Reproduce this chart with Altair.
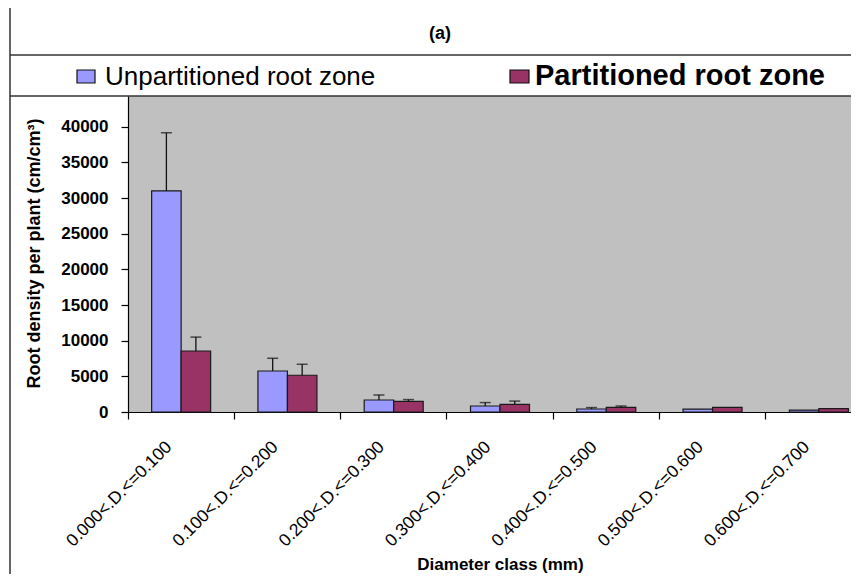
import altair as alt
import pandas as pd

categories = ["0.000<.D.<=0.100", "0.100<.D.<=0.200", "0.200<.D.<=0.300",
              "0.300<.D.<=0.400", "0.400<.D.<=0.500", "0.500<.D.<=0.600",
              "0.600<.D.<=0.700"]
series_names = ["Unpartitioned root zone", "Partitioned root zone"]
unpartitioned = [31000, 5750, 1680, 840, 420, 400, 260]
unpartitioned_err = [8150, 1780, 700, 480, 200, 0, 0]
partitioned = [8550, 5150, 1500, 1080, 660, 650, 480]
partitioned_err = [1950, 1540, 240, 450, 180, 0, 0]
y_ticks = [0, 5000, 10000, 15000, 20000, 25000, 30000, 35000, 40000]
colors = ["#9999FF", "#993366"]

rows = []
for i, c in enumerate(categories):
    rows.append(dict(cat=c, series=series_names[0], value=unpartitioned[i], err=unpartitioned_err[i]))
    rows.append(dict(cat=c, series=series_names[1], value=partitioned[i], err=partitioned_err[i]))
df = pd.DataFrame(rows)
df["top"] = df["value"] + df["err"]

FONT = "Liberation Sans"

x_enc = alt.X(
    "cat:N", sort=categories,
    scale=alt.Scale(range=[0, 744], paddingInner=0.445, paddingOuter=0.2225),
    axis=alt.Axis(
        title="Diameter class (mm)", labelAngle=-45, labelAlign="right",
        labelBaseline="middle", labelFontSize=17.5, labelPadding=25, labelOffset=-12,
        labelOverlap=False, tickSize=7, bandPosition=-0.4, titleX=372, titleY=152,
        titleBaseline="middle", titleAlign="center", titleFontSize=17,
        titleFontWeight="bold", grid=False,
    ),
)
y_scale = alt.Scale(domain=[0, 44300], nice=False, zero=True)
y_axis = alt.Axis(
    values=y_ticks, format="d", title="Root density per plant (cm/cm³)",
    labelFontSize=17, labelFontWeight="bold", tickSize=7, labelPadding=13,
    labelOverlap=False, labelFlush=False, tickCount=9,
    titleX=-94, titleY=157, titleAngle=-90, titleBaseline="middle",
    titleAlign="center", titleFontSize=18, titleFontWeight="bold", grid=False,
)
xoff = alt.XOffset("series:N", sort=series_names,
                   scale=alt.Scale(paddingInner=0, paddingOuter=0))
color = alt.Color("series:N", sort=series_names,
                  scale=alt.Scale(domain=series_names, range=colors), legend=None)

base = alt.Chart(df)

bars = base.mark_bar(stroke="#1a1a1a", strokeWidth=1.2).encode(
    x=x_enc, xOffset=xoff,
    y=alt.Y("value:Q", scale=y_scale, axis=y_axis), color=color)

err_rule = base.transform_filter("datum.err > 0").mark_rule(
    color="#111111", strokeWidth=1.3).encode(
    x=x_enc, xOffset=xoff,
    y=alt.Y("value:Q", scale=y_scale, axis=y_axis), y2="top:Q")

caps = base.transform_filter("datum.err > 0").mark_tick(
    color="#111111", thickness=1.5, size=11).encode(
    x=x_enc, xOffset=xoff,
    y=alt.Y("top:Q", scale=y_scale, axis=y_axis))

one = alt.Chart(pd.DataFrame({"k": [0]}))

frame_left = one.mark_rule(color="#333333", strokeWidth=1.5).encode(
    x=alt.value(-118), y=alt.value(-100), y2=alt.value(480))
frame_top = one.mark_rule(color="#333333", strokeWidth=1.5).encode(
    x=alt.value(-118), x2=alt.value(760), y=alt.value(-41))
frame_plot = one.mark_rule(color="#333333", strokeWidth=1.5).encode(
    x=alt.value(-118), x2=alt.value(760), y=alt.value(0))

leg_sq1 = one.mark_rect(fill=colors[0], stroke="#111111", strokeWidth=1.2).encode(
    x=alt.value(-51), x2=alt.value(-33), y=alt.value(-26), y2=alt.value(-13))
leg_sq2 = one.mark_rect(fill=colors[1], stroke="#111111", strokeWidth=1.2).encode(
    x=alt.value(382), x2=alt.value(401), y=alt.value(-26), y2=alt.value(-13))
leg_t1 = one.mark_text(align="left", baseline="alphabetic", fontSize=26,
                       font=FONT, color="black").encode(
    x=alt.value(-23), y=alt.value(-11), text=alt.value(series_names[0]))
leg_t2 = one.mark_text(align="left", baseline="alphabetic", fontSize=29,
                       fontWeight="bold", font=FONT, color="black").encode(
    x=alt.value(407), y=alt.value(-11), text=alt.value(series_names[1]))
title = one.mark_text(align="center", baseline="middle", fontSize=18,
                      fontWeight="bold", font=FONT, color="black").encode(
    x=alt.value(312), y=alt.value(-62), text=alt.value("(a)"))

chart = alt.layer(
    bars, err_rule, caps, frame_left, frame_top, frame_plot,
    leg_sq1, leg_sq2, leg_t1, leg_t2, title,
).resolve_axis(y="shared").properties(
    width=723, height=316,
    padding={"left": 120, "top": 88, "right": 0, "bottom": 162},
    autosize=alt.AutoSizeParams(type="none"),
).configure(
    font=FONT,
).configure_view(
    fill="#C0C0C0", stroke=None,
).configure_axis(
    domainColor="black", tickColor="black", labelColor="black",
    titleColor="black", labelFont=FONT, titleFont=FONT, domainWidth=1.2,
    tickWidth=1.2,
)

chart.save("out.html", embed_options={"renderer": "svg", "actions": False})
